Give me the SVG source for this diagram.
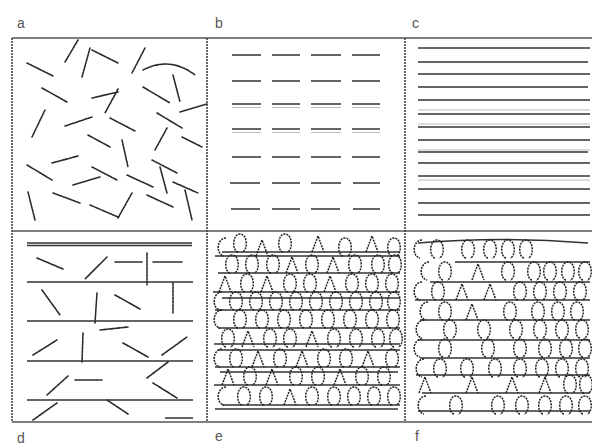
<svg xmlns="http://www.w3.org/2000/svg" width="592" height="447" viewBox="0 0 592 447">
<style>
.bg{fill:#fff}
.fr{stroke:#444;stroke-width:1.6;fill:none;stroke-dasharray:2 1}
.fh{stroke:#555;stroke-width:1.6;fill:none}
.s{stroke:#2a2a2a;stroke-width:1.6;fill:none;stroke-linecap:round;stroke-dasharray:2.5 1}
.d{stroke:#333;stroke-width:1.6;fill:none}
.m{stroke:#aaa;stroke-width:0.8;fill:none}
.lp{stroke:#222;stroke-width:1.5;fill:none;stroke-dasharray:2 1}
.lb{font-family:"Liberation Sans",Arial,sans-serif;font-size:14px;fill:#555}
</style>
<defs>
<path id="lp" d="M -2 0 C -8 -1 -8 -18 0 -18 C 8 -18 8 -1 2 0" class="lp"/>
<path id="lc" d="M 4 -18 C -5 -18 -7 -2 2 0" class="lp"/>
<path id="lt" d="M -6 0 L 0 -16 L 6 0" class="lp"/>
</defs>
<rect class="bg" width="592" height="447"/>

<g id="labels">
<text class="lb" x="17" y="28">a</text>
<text class="lb" x="215" y="28">b</text>
<text class="lb" x="412" y="28">c</text>
<text class="lb" x="17" y="443">d</text>
<text class="lb" x="215" y="441">e</text>
<text class="lb" x="415" y="441">f</text>
</g>

<g id="frame">
<line class="fh" x1="12" y1="38" x2="592" y2="38"/>
<line class="fh" x1="12" y1="231" x2="592" y2="231"/>
<line class="fh" x1="12" y1="422" x2="592" y2="422"/>
<line class="fr" x1="12" y1="38" x2="12" y2="422"/>
<line class="fr" x1="207" y1="38" x2="207" y2="422"/>
<line class="fr" x1="405" y1="38" x2="405" y2="422"/>
</g>

<g id="panel-a">
<path class="s" d="M78 40L65 62M90 48L82 77M92 50L118 63M145 48L132 73M27 63L53 76M143 70Q170 56 195 75M173 75L180 102M42 88L67 102M92 98L118 92M118 89L105 113M143 87L170 103M180 112L207 104M45 110L32 137M65 126L92 117M110 118L135 131M157 113L182 128M88 135L110 147M122 140L128 167M167 128L155 150M182 137L202 147M52 163L78 156M152 160L177 173M160 167L167 193M27 165L52 180M92 167L117 180M73 185L100 177M127 175L153 187M173 182L198 193M185 190L192 220M28 192L35 220M53 193L80 203M90 205L118 217M118 218L132 193M147 195L173 207"/>
</g>

<g id="panel-b">
<path class="d" d="M232 55H261M272 55H300M311 55H341M352 55H380
M232 81H261M272 81H300M311 81H341M352 81H380
M232 104H261M272 104H300M311 104H341M352 104H380
M232 129H261M272 129H300M311 129H341M352 129H380
M232 157H261M272 157H300M311 157H341M352 157H380
M230 183H260M272 183H300M311 183H341M353 183H380
M231 209H260M272 209H300M311 209H340M353 209H380"/>
<path class="m" d="M232 107.5H261M272 107.5H300M311 107.5H341M352 107.5H380M232 132.5H261M272 132.5H300M311 132.5H341M352 132.5H380"/>
</g>

<g id="panel-c">
<path class="d" d="M418 48H590M418 62H588M418 74H590M418 87H588M418 100H590M418 114H590M418 127H590M418 140H590M418 152H588M418 163H590M418 176H590M418 189H590M418 203H590M418 215H590"/>
<path class="m" d="M418 110H590M418 124H590M418 150H590M418 180H590"/>
</g>

<g id="panel-d">
<path class="d" d="M27 243H192M27 245.5H192M27 282H193M27 321H193M27 361H193M27 400H193M165 418H193"/>
<path class="s" d="M37 258L63 269M107 257L85 279M115 262H142M147 253V285M153 262H182M42 290L60 315M97 293L95 323M115 295L140 309M173 283V313M100 330L128 327M33 355L57 340M83 333L82 362M123 343L148 357M162 355L187 337M147 378L168 362M47 395L68 376M75 380H102M153 383L177 398M33 420L57 403M107 400L128 414"/>
</g>

<g id="panel-e">
<path class="d" d="M222 252H400M215 256H400M218 273H400M213 292H400M222 298H400M215 310H400M218 328H400M214 344H400M218 350H400M215 367H400M220 372H398M214 385H400M222 405H400M215 409H398"/>
<use href="#lc" x="222" y="256"/><use href="#lp" x="240" y="252"/><use href="#lt" x="262" y="256"/><use href="#lp" x="285" y="252"/><use href="#lt" x="318" y="252"/><use href="#lp" x="345" y="256"/><use href="#lt" x="372" y="252"/><use href="#lp" x="394" y="256"/>
<use href="#lp" x="232" y="273"/><use href="#lp" x="252" y="273"/><use href="#lp" x="273" y="273"/><use href="#lt" x="292" y="273"/><use href="#lp" x="312" y="273"/><use href="#lt" x="333" y="273"/><use href="#lp" x="355" y="273"/><use href="#lp" x="378" y="273"/><use href="#lp" x="395" y="273"/>
<use href="#lt" x="225" y="292"/><use href="#lp" x="247" y="292"/><use href="#lt" x="267" y="292"/><use href="#lp" x="290" y="292"/><use href="#lp" x="310" y="292"/><use href="#lt" x="330" y="292"/><use href="#lp" x="352" y="292"/><use href="#lp" x="372" y="292"/><use href="#lp" x="392" y="292"/>
<use href="#lc" x="218" y="310"/><use href="#lp" x="236" y="310"/><use href="#lp" x="256" y="310"/><use href="#lp" x="276" y="310"/><use href="#lp" x="296" y="310"/><use href="#lp" x="316" y="310"/><use href="#lp" x="336" y="310"/><use href="#lp" x="356" y="310"/><use href="#lp" x="376" y="310"/><use href="#lp" x="394" y="310"/>
<use href="#lc" x="218" y="328"/><use href="#lp" x="240" y="328"/><use href="#lp" x="262" y="328"/><use href="#lp" x="284" y="328"/><use href="#lp" x="306" y="328"/><use href="#lp" x="328" y="328"/><use href="#lp" x="350" y="328"/><use href="#lp" x="372" y="328"/><use href="#lp" x="393" y="328"/>
<use href="#lp" x="228" y="347"/><use href="#lt" x="248" y="347"/><use href="#lp" x="270" y="347"/><use href="#lp" x="290" y="347"/><use href="#lt" x="312" y="347"/><use href="#lp" x="334" y="347"/><use href="#lp" x="356" y="347"/><use href="#lp" x="378" y="347"/><use href="#lp" x="396" y="347"/>
<use href="#lc" x="218" y="367"/><use href="#lp" x="236" y="367"/><use href="#lt" x="258" y="367"/><use href="#lp" x="280" y="367"/><use href="#lt" x="302" y="367"/><use href="#lp" x="324" y="367"/><use href="#lp" x="346" y="367"/><use href="#lt" x="368" y="367"/><use href="#lp" x="392" y="367"/>
<use href="#lt" x="228" y="385"/><use href="#lp" x="250" y="385"/><use href="#lt" x="272" y="385"/><use href="#lp" x="296" y="385"/><use href="#lp" x="318" y="385"/><use href="#lt" x="340" y="385"/><use href="#lp" x="362" y="385"/><use href="#lp" x="384" y="385"/>
<use href="#lc" x="222" y="405"/><use href="#lp" x="244" y="405"/><use href="#lp" x="266" y="405"/><use href="#lt" x="290" y="405"/><use href="#lp" x="312" y="405"/><use href="#lp" x="334" y="405"/><use href="#lp" x="354" y="405"/><use href="#lp" x="374" y="405"/><use href="#lp" x="394" y="405"/>
</g>

<g id="panel-f">
<path class="d" d="M418 243Q500 236 588 243M455 262H590M430 282H590M415 300H590M420 320H590M418 340H590M420 358H590M416 375H590M422 393H590M418 411H590"/>
<use href="#lc" x="418" y="258"/><use href="#lp" x="437" y="258"/><use href="#lp" x="468" y="258"/><use href="#lp" x="490" y="258"/><use href="#lp" x="508" y="258"/><use href="#lp" x="526" y="258"/>
<use href="#lc" x="425" y="280"/><use href="#lp" x="445" y="280"/><use href="#lt" x="478" y="280"/><use href="#lp" x="508" y="280"/><use href="#lp" x="534" y="280"/><use href="#lp" x="550" y="280"/><use href="#lp" x="568" y="280"/><use href="#lp" x="585" y="280"/>
<use href="#lc" x="418" y="300"/><use href="#lp" x="438" y="300"/><use href="#lt" x="462" y="300"/><use href="#lt" x="490" y="300"/><use href="#lp" x="520" y="300"/><use href="#lp" x="540" y="300"/><use href="#lp" x="560" y="300"/><use href="#lp" x="580" y="300"/>
<use href="#lc" x="424" y="320"/><use href="#lp" x="445" y="320"/><use href="#lt" x="472" y="320"/><use href="#lp" x="510" y="320"/><use href="#lp" x="538" y="320"/><use href="#lp" x="558" y="320"/><use href="#lp" x="577" y="320"/>
<use href="#lc" x="420" y="338"/><use href="#lp" x="450" y="338"/><use href="#lp" x="484" y="338"/><use href="#lp" x="516" y="338"/><use href="#lp" x="540" y="338"/><use href="#lp" x="562" y="338"/><use href="#lp" x="582" y="338"/>
<use href="#lc" x="418" y="357"/><use href="#lp" x="445" y="357"/><use href="#lp" x="488" y="357"/><use href="#lp" x="520" y="357"/><use href="#lp" x="545" y="357"/><use href="#lp" x="566" y="357"/><use href="#lp" x="585" y="357"/>
<use href="#lc" x="420" y="377"/><use href="#lp" x="440" y="377"/><use href="#lp" x="467" y="377"/><use href="#lp" x="495" y="377"/><use href="#lp" x="520" y="377"/><use href="#lp" x="542" y="377"/><use href="#lp" x="562" y="377"/><use href="#lp" x="582" y="377"/>
<use href="#lt" x="425" y="393"/><use href="#lt" x="472" y="393"/><use href="#lt" x="512" y="393"/><use href="#lt" x="545" y="393"/><use href="#lp" x="570" y="393"/><use href="#lp" x="586" y="393"/>
<use href="#lc" x="422" y="414"/><use href="#lp" x="456" y="414"/><use href="#lp" x="498" y="414"/><use href="#lp" x="522" y="414"/><use href="#lp" x="545" y="414"/><use href="#lp" x="566" y="414"/><use href="#lp" x="585" y="414"/>
</g>
</svg>
